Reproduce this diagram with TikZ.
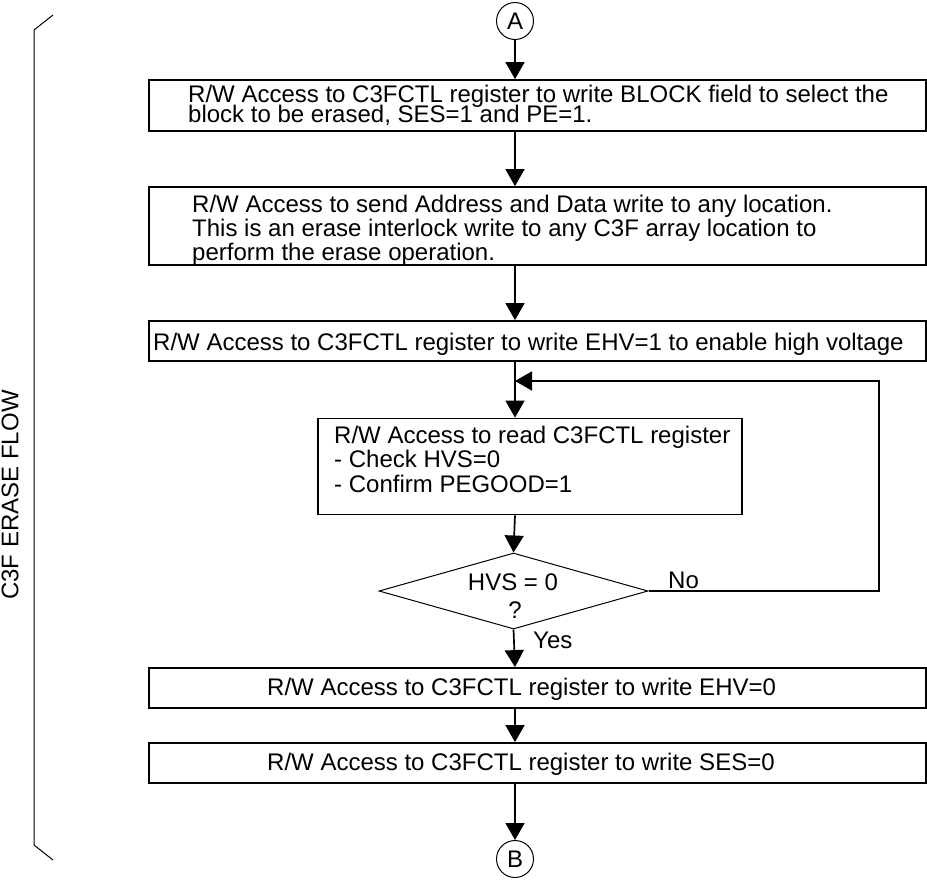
\documentclass[tikz,border=0pt]{standalone}
\usepackage{fontspec}
\setmainfont{Liberation Sans}
\usetikzlibrary{shapes.geometric,arrows.meta}
\begin{document}
\begin{tikzpicture}[x=1pt,y=-1pt,
  box/.style={draw, line width=1.8pt, inner sep=0pt},
  arr/.style={line width=1.7pt, -{Triangle[width=19pt,length=17pt]}},
  conn/.style={draw, circle, line width=1pt, minimum size=37pt, inner sep=0pt, font=\fontsize{24}{24}\selectfont},
  txt/.style={inner sep=0pt, anchor=base west, font=\fontsize{24}{24}\selectfont},
  ctxt/.style={inner sep=0pt, anchor=base, font=\fontsize{24}{24}\selectfont}
]
\useasboundingbox (0,0) rectangle (927,879);

% connector circles
\node[conn] (A) at (515,21) {A};
\node[conn] (B) at (515,859) {B};

% boxes
\node[box, minimum width=777pt, minimum height=51pt] (b1) at (537.5,105.5) {};
\node[box, minimum width=777pt, minimum height=78pt] (b2) at (537.5,226) {};
\node[box, minimum width=777pt, minimum height=40pt] (b3) at (537.5,341) {};
\node[box, minimum width=424pt, minimum height=96pt] (b4) at (530,466.5) {};
\node[diamond, draw, line width=1pt, minimum width=269pt, minimum height=76pt, inner sep=0pt] (d) at (513.5,591) {};
\node[box, minimum width=777pt, minimum height=40pt] (b5) at (537.5,688) {};
\node[box, minimum width=777pt, minimum height=40pt] (b6) at (537.5,763) {};

% texts
\node[txt] (t11) at (188,102) {R/W Access to C3FCTL register to write BLOCK field to select the};
\node[txt] (t12) at (188,122.5) {block to be erased, SES=1 and PE=1.};
\node[txt] (t21) at (192,212) {R/W Access to send Address and Data write to any location.};
\node[txt] (t22) at (192,236) {This is an erase interlock write to any C3F array location to};
\node[txt] (t23) at (192,260) {perform the erase operation.};
\node[txt] (t31) at (153,350) {R/W Access to C3FCTL register to write EHV=1 to enable high voltage};
\node[txt] (t41) at (334,443) {R/W Access to read C3FCTL register};
\node[txt] (t42) at (334,467) {- Check HVS=0};
\node[txt] (t43) at (334,492) {- Confirm PEGOOD=1};
\node[ctxt] (td1) at (513,590) {HVS = 0};
\node[ctxt] (td2) at (515,618) {?};
\node[txt] (tno) at (668,588) {No};
\node[txt] (tyes) at (533,648) {Yes};
\node[txt] (t51) at (267,695) {R/W Access to C3FCTL register to write EHV=0};
\node[txt] (t61) at (267,770) {R/W Access to C3FCTL register to write SES=0};

% connectors
\draw[arr] (A.south) -- (A.south |- b1.north);
\draw[arr] (b1.south -| A) -- (b2.north -| A);
\draw[arr] (b2.south -| A) -- (b3.north -| A);
\draw[arr] (b3.south -| A) -- (b4.north -| A);
\draw[arr] (b4.south -| A) -- (d.north);
\draw[arr] (d.south) -- (b5.north -| A);
\draw[arr] (b5.south -| A) -- (b6.north -| A);
\draw[arr] (b6.south -| A) -- (B.north);

% loop back
\coordinate (lpc) at (879,381);
\coordinate (join) at (515,381);
\draw[arr] (d.east) -| (lpc) -- (join);

% side bracket and label
\coordinate (br1) at (53,15);
\coordinate (br2) at (34,30);
\coordinate (br3) at (34,845);
\coordinate (br4) at (53,860);
\draw[line width=1pt] (br1) -- (br2) -- (br3) -- (br4);
\node[inner sep=0pt, rotate=90, font=\fontsize{24}{24}\selectfont] (lbl) at (10,495) {C3F ERASE FLOW};
\end{tikzpicture}
\end{document}
